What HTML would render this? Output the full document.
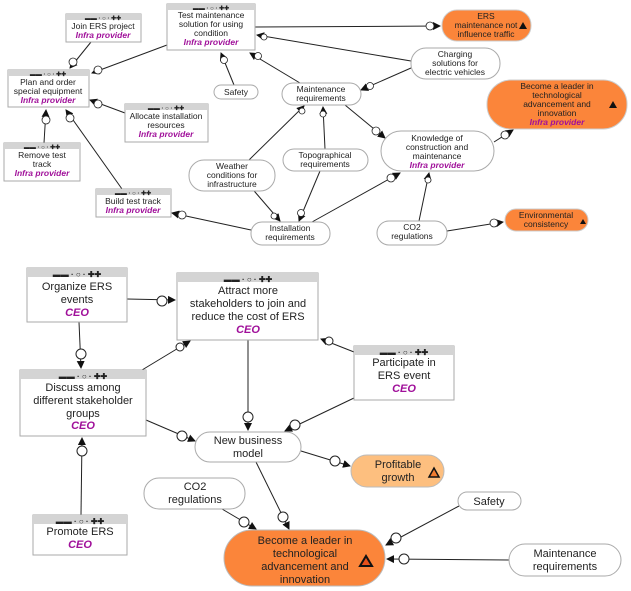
<!DOCTYPE html>
<html><head><meta charset="utf-8"><style>
html,body{margin:0;padding:0;background:#fff;}
svg{display:block;font-family:"Liberation Sans",sans-serif;}
.bx{fill:#fff;stroke:#aaa;stroke-width:1}
.hd{fill:#d4d4d4}
.el{fill:#fff;stroke:#aaa;stroke-width:1}
.ln{stroke:#222;stroke-width:1;fill:none;marker-end:url(#a)}
.t{fill:#222;text-anchor:middle}
.r{fill:#a0109a;font-weight:bold;font-style:italic;text-anchor:middle}
.g{fill:#222;text-anchor:middle;font-weight:bold}
</style></head><body>
<svg width="631" height="591" viewBox="0 0 631 591" xmlns="http://www.w3.org/2000/svg">
<defs>
<marker id="a" markerWidth="8" markerHeight="8" refX="7" refY="4" orient="auto" markerUnits="userSpaceOnUse"><path d="M0,0 L8,4 L0,8 z" fill="#111"/></marker>
</defs>

<!-- ===== TOP edges ===== -->
<line class="ln" x1="91" y1="42" x2="70" y2="68"/>
<line class="ln" x1="167" y1="45" x2="92" y2="73"/>
<line class="ln" x1="125" y1="113" x2="90" y2="100"/>
<line class="ln" x1="44" y1="143" x2="46" y2="110"/>
<line class="ln" x1="122" y1="189" x2="66" y2="110"/>
<line class="ln" x1="251" y1="230" x2="172" y2="213"/>
<line class="ln" x1="234" y1="85" x2="221" y2="53"/>
<line class="ln" x1="300" y1="83" x2="250" y2="53"/>
<line class="ln" x1="411" y1="61" x2="257" y2="35"/>
<line class="ln" x1="255" y1="27" x2="440" y2="26"/>
<line class="ln" x1="411" y1="68" x2="361" y2="90"/>
<line class="ln" x1="249" y1="160" x2="304" y2="106"/>
<line class="ln" x1="325" y1="149" x2="323" y2="107"/>
<line class="ln" x1="345" y1="105" x2="385" y2="138"/>
<line class="ln" x1="249" y1="185" x2="280" y2="221"/>
<line class="ln" x1="320" y1="171" x2="299" y2="221"/>
<line class="ln" x1="312" y1="222" x2="400" y2="173"/>
<line class="ln" x1="419" y1="221" x2="429" y2="173"/>
<line class="ln" x1="494" y1="142" x2="513" y2="130"/>
<line class="ln" x1="447" y1="231" x2="503" y2="222"/>

<!-- top small decorators -->
<g fill="#fff" stroke="#222" stroke-width="0.8">
<circle cx="73" cy="62" r="4"/><circle cx="98" cy="70" r="4"/><circle cx="98" cy="104" r="4"/>
<circle cx="46" cy="120" r="4"/><circle cx="70" cy="118" r="4"/><circle cx="182" cy="215" r="4"/>
<circle cx="224" cy="60" r="3.5"/><circle cx="258" cy="56" r="3.5"/><circle cx="264" cy="37" r="3"/>
<circle cx="430" cy="26" r="4"/><circle cx="370" cy="86" r="3.5"/><circle cx="302" cy="111" r="3"/>
<circle cx="323" cy="114" r="3"/><circle cx="376" cy="131" r="4"/><circle cx="274" cy="216" r="3"/>
<circle cx="301" cy="213" r="3.5"/><circle cx="391" cy="178" r="4"/><circle cx="428" cy="180" r="3"/>
<circle cx="505" cy="135" r="4"/><circle cx="494" cy="223" r="4"/>
</g>

<!-- ===== TOP nodes ===== -->
<g font-size="8.5">
<rect class="bx" x="66" y="14" width="75" height="28"/><rect class="hd" x="66" y="14" width="75" height="6"/>
<text class="g" x="103" y="20" font-size="6">▬▬ · ○ · ✚✚</text>
<text class="t" x="103" y="29">Join ERS project</text><text class="r" x="103" y="38">Infra provider</text>

<rect class="bx" x="167" y="4" width="88" height="46"/><rect class="hd" x="167" y="4" width="88" height="6"/>
<text class="g" x="211" y="10" font-size="6">▬▬ · ○ · ✚✚</text>
<text class="t" x="211" y="18">Test maintenance</text><text class="t" x="211" y="27">solution for using</text>
<text class="t" x="211" y="36">condition</text><text class="r" x="211" y="45">Infra provider</text>

<rect class="bx" x="8" y="70" width="81" height="37"/><rect class="hd" x="8" y="70" width="81" height="6"/>
<text class="g" x="48" y="76" font-size="6">▬▬ · ○ · ✚✚</text>
<text class="t" x="48" y="85">Plan and order</text><text class="t" x="48" y="94">special equipment</text><text class="r" x="48" y="103">Infra provider</text>

<rect class="bx" x="125" y="104" width="83" height="38"/><rect class="hd" x="125" y="104" width="83" height="6"/>
<text class="g" x="166" y="110" font-size="6">▬▬ · ○ · ✚✚</text>
<text class="t" x="166" y="119">Allocate installation</text><text class="t" x="166" y="128">resources</text><text class="r" x="166" y="137">Infra provider</text>

<rect class="bx" x="4" y="143" width="76" height="38"/><rect class="hd" x="4" y="143" width="76" height="6"/>
<text class="g" x="42" y="149" font-size="6">▬▬ · ○ · ✚✚</text>
<text class="t" x="42" y="158">Remove test</text><text class="t" x="42" y="167">track</text><text class="r" x="42" y="176">Infra provider</text>

<rect class="bx" x="96" y="189" width="75" height="28"/><rect class="hd" x="96" y="189" width="75" height="6"/>
<text class="g" x="133" y="195" font-size="6">▬▬ · ○ · ✚✚</text>
<text class="t" x="133" y="204">Build test track</text><text class="r" x="133" y="213">Infra provider</text>

<rect class="el" x="214" y="85" width="44" height="14" rx="7"/><text class="t" x="236" y="95">Safety</text>
<rect class="el" x="282" y="83" width="79" height="22" rx="11"/><text class="t" x="321" y="92">Maintenance</text><text class="t" x="321" y="101">requirements</text>
<rect class="el" x="411" y="48" width="89" height="31" rx="15"/><text class="t" x="455" y="57">Charging</text><text class="t" x="455" y="66">solutions for</text><text class="t" x="455" y="75">electric vehicles</text>
<rect class="el" x="189" y="160" width="86" height="31" rx="15"/><text class="t" x="232" y="169">Weather</text><text class="t" x="232" y="178">conditions for</text><text class="t" x="232" y="187">infrastructure</text>
<rect class="el" x="283" y="149" width="85" height="22" rx="11"/><text class="t" x="325" y="158">Topographical</text><text class="t" x="325" y="167">requirements</text>
<rect class="el" x="381" y="131" width="113" height="40" rx="20"/><text class="t" x="437" y="141">Knowledge of</text><text class="t" x="437" y="150">construction and</text><text class="t" x="437" y="159">maintenance</text><text class="r" x="437" y="168">Infra provider</text>
<rect class="el" x="251" y="222" width="79" height="23" rx="11"/><text class="t" x="290" y="231">Installation</text><text class="t" x="290" y="240">requirements</text>
<rect class="el" x="377" y="221" width="70" height="24" rx="12"/><text class="t" x="412" y="230">CO2</text><text class="t" x="412" y="239">regulations</text>

<rect x="442" y="10" width="89" height="31" rx="15" fill="#fb853a" stroke="#ccc"/>
<text class="t" x="486" y="19">ERS</text><text class="t" x="486" y="28">maintenance not</text><text class="t" x="486" y="37">influence traffic</text>
<path d="M519,29 L523,22 L527,29 z" fill="#111"/>
<rect x="487" y="80" width="140" height="49" rx="24" fill="#fb853a" stroke="#ccc"/>
<text class="t" x="557" y="89">Become a leader in</text><text class="t" x="557" y="98">technological</text>
<text class="t" x="557" y="107">advancement and</text><text class="t" x="557" y="116">innovation</text><text class="r" x="557" y="125">Infra provider</text>
<path d="M609,108 L613,101 L617,108 z" fill="#111"/>
<rect x="505" y="209" width="83" height="22" rx="11" fill="#fb853a" stroke="#ccc"/>
<text class="t" x="546" y="218">Environmental</text><text class="t" x="546" y="227">consistency</text>
<path d="M580,224 L583,219 L586,224 z" fill="#111"/>
</g>

<!-- ===== BOTTOM edges ===== -->
<line class="ln" x1="127" y1="299" x2="175" y2="300"/>
<line class="ln" x1="79" y1="322" x2="81" y2="368"/>
<line class="ln" x1="142" y1="370" x2="190" y2="341"/>
<line class="ln" x1="354" y1="352" x2="321" y2="339"/>
<line class="ln" x1="248" y1="340" x2="248" y2="430"/>
<line class="ln" x1="354" y1="398" x2="285" y2="431"/>
<line class="ln" x1="146" y1="420" x2="195" y2="441"/>
<line class="ln" x1="81" y1="515" x2="82" y2="438"/>
<line class="ln" x1="301" y1="451" x2="350" y2="466"/>
<line class="ln" x1="256" y1="462" x2="289" y2="529"/>
<line class="ln" x1="222" y1="509" x2="256" y2="529"/>
<line class="ln" x1="459" y1="506" x2="386" y2="545"/>
<line class="ln" x1="509" y1="560" x2="387" y2="559"/>
<g fill="#fff" stroke="#222" stroke-width="1">
<circle cx="162" cy="301" r="5"/><circle cx="81" cy="354" r="5"/><circle cx="180" cy="347" r="4"/>
<circle cx="329" cy="341" r="4"/><circle cx="248" cy="417" r="5"/><circle cx="295" cy="425" r="5"/>
<circle cx="182" cy="436" r="5"/><circle cx="82" cy="451" r="5"/><circle cx="335" cy="461" r="5"/>
<circle cx="283" cy="517" r="5"/><circle cx="244" cy="522" r="5"/><circle cx="396" cy="538" r="5"/>
<circle cx="404" cy="559" r="5"/>
</g>

<g font-size="11">
<rect class="bx" x="27" y="268" width="100" height="54"/><rect class="hd" x="27" y="268" width="100" height="9"/>
<text class="g" x="77" y="277" font-size="8">▬▬ · ○ · ✚✚</text>
<text class="t" x="77" y="290">Organize ERS</text><text class="t" x="77" y="303">events</text><text class="r" x="77" y="316">CEO</text>

<rect class="bx" x="177" y="273" width="141" height="67"/><rect class="hd" x="177" y="273" width="141" height="9"/>
<text class="g" x="248" y="282" font-size="8">▬▬ · ○ · ✚✚</text>
<text class="t" x="248" y="294">Attract more</text><text class="t" x="248" y="307">stakeholders to join and</text>
<text class="t" x="248" y="320">reduce the cost of ERS</text><text class="r" x="248" y="333">CEO</text>

<rect class="bx" x="20" y="370" width="126" height="66"/><rect class="hd" x="20" y="370" width="126" height="9"/>
<text class="g" x="83" y="379" font-size="8">▬▬ · ○ · ✚✚</text>
<text class="t" x="83" y="391">Discuss among</text><text class="t" x="83" y="404">different stakeholder</text>
<text class="t" x="83" y="417">groups</text><text class="r" x="83" y="429">CEO</text>

<rect class="bx" x="354" y="346" width="100" height="54"/><rect class="hd" x="354" y="346" width="100" height="9"/>
<text class="g" x="404" y="355" font-size="8">▬▬ · ○ · ✚✚</text>
<text class="t" x="404" y="366">Participate in</text><text class="t" x="404" y="379">ERS event</text><text class="r" x="404" y="392">CEO</text>

<rect class="bx" x="33" y="515" width="94" height="40"/><rect class="hd" x="33" y="515" width="94" height="9"/>
<text class="g" x="80" y="524" font-size="8">▬▬ · ○ · ✚✚</text>
<text class="t" x="80" y="535">Promote ERS</text><text class="r" x="80" y="548">CEO</text>

<rect class="el" x="195" y="432" width="106" height="30" rx="15"/><text class="t" x="248" y="444">New business</text><text class="t" x="248" y="457">model</text>
<rect class="el" x="144" y="478" width="101" height="31" rx="15"/><text class="t" x="195" y="490">CO2</text><text class="t" x="195" y="503">regulations</text>
<rect class="el" x="458" y="492" width="63" height="18" rx="9"/><text class="t" x="489" y="505">Safety</text>
<rect class="el" x="509" y="544" width="112" height="32" rx="16"/><text class="t" x="565" y="557">Maintenance</text><text class="t" x="565" y="570">requirements</text>

<rect x="351" y="455" width="93" height="32" rx="16" fill="#fdbf7f" stroke="#bbb"/>
<text class="t" x="398" y="468">Profitable</text><text class="t" x="398" y="481">growth</text>
<path d="M429,477 L434,468 L439,477 z" fill="#f07c30" stroke="#111" stroke-width="1.5"/>
<rect x="224" y="530" width="161" height="56" rx="28" fill="#fb853a" stroke="#bbb"/>
<text class="t" x="305" y="544">Become a leader in</text><text class="t" x="305" y="557">technological</text>
<text class="t" x="305" y="570">advancement and</text><text class="t" x="305" y="583">innovation</text>
<path d="M360,566 L366,556 L372,566 z" fill="#e8501a" stroke="#111" stroke-width="2"/>
</g>
</svg>
</body></html>
